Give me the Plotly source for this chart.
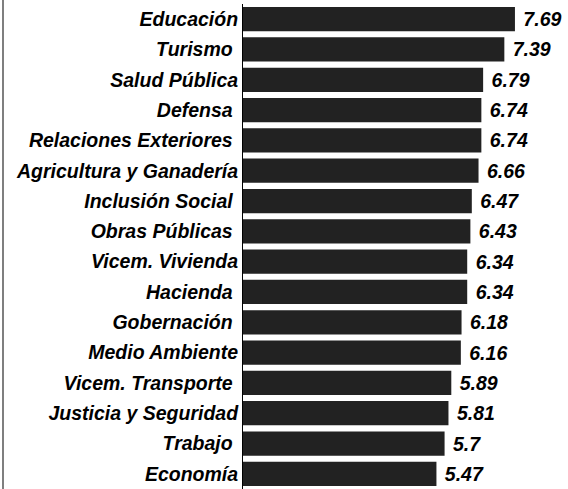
# Horizontal bar chart: average score by ministry
import plotly.graph_objects as go

# Categories (top to bottom) and their values
ministerios = [
    "Educación", "Turismo\u00a0", "Salud Pública", "Defensa\u00a0",
    "Relaciones Exteriores\u00a0", "Agricultura y Ganadería", "Inclusión Social\u00a0",
    "Obras Públicas\u00a0", "Vicem. Vivienda", "Hacienda\u00a0", "Gobernación\u00a0",
    "Medio Ambiente", "Vicem. Transporte\u00a0", "Justicia y Seguridad",
    "Trabajo\u00a0", "Economía"
]
notas = [7.69, 7.39, 6.79, 6.74, 6.74, 6.66, 6.47, 6.43, 6.34, 6.34, 6.18,
         6.16, 5.89, 5.81, 5.7, 5.47]

W, H = 568, 489
left, top = 243, 4

fuente = dict(family="Liberation Sans, Arial, sans-serif", size=19.5,
              color="black", weight="bold", style="italic")

fig = go.Figure(go.Bar(
    x=notas,
    y=ministerios,
    orientation="h",
    marker=dict(color="#222222", line=dict(width=0)),
    text=["\u00a0" + str(v) for v in notas],
    textposition="outside",
    textfont=fuente,
    cliponaxis=False,
    hoverinfo="skip",
))

fig.update_layout(
    width=W, height=H,
    margin=dict(l=left, r=0, t=top, b=0),
    paper_bgcolor="white",
    plot_bgcolor="white",
    bargap=0.2,
    showlegend=False,
    font=fuente,
)
fig.update_xaxes(range=[0, 9.19], visible=False, fixedrange=True)
fig.update_yaxes(
    autorange="reversed",
    showline=True, linecolor="black", linewidth=1,
    showgrid=False, ticks="", ticklabelstandoff=0,
    tickfont=fuente, fixedrange=True,
)

# thin gray frame line at the left edge
fig.add_shape(type="line", xref="paper", yref="paper",
              x0=(3 - left) / (W - left), x1=(3 - left) / (W - left),
              y0=-0.01, y1=1.01, line=dict(color="#555555", width=1.5))

# remove the default page margin so the figure sits at the window corner
fig.write_html("out.html", config={"displayModeBar": False},
               post_script="document.body.style.margin='0';")
